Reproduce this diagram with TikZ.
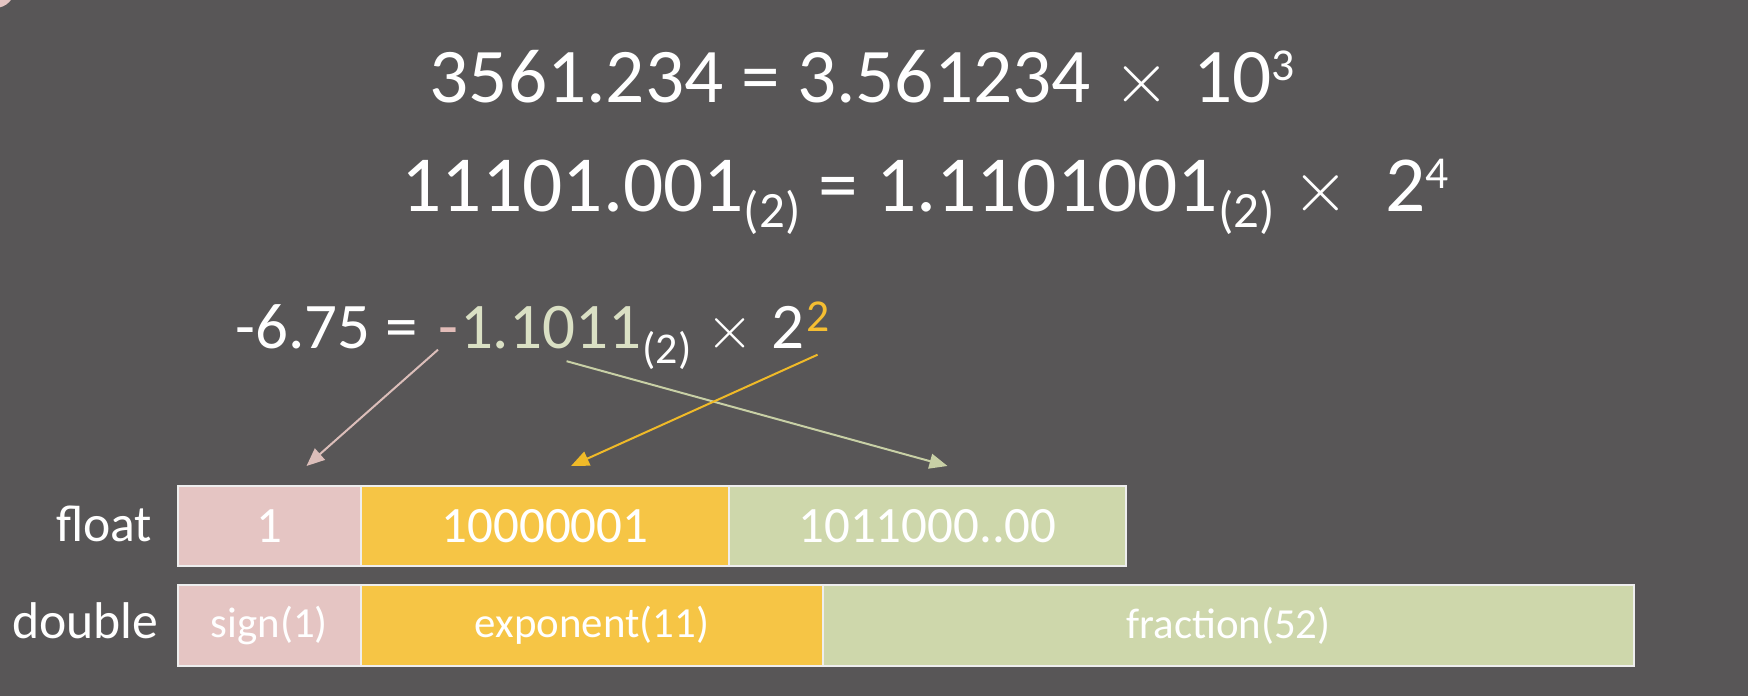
\documentclass[tikz,border=0pt]{standalone}
\usepackage{fontspec}
\setmainfont{Carlito}
\usetikzlibrary{positioning,arrows.meta}

\definecolor{slatebg}{RGB}{88,86,87}
\definecolor{signpink}{RGB}{229,197,195}
\definecolor{expyellow}{RGB}{246,197,69}
\definecolor{fracgreen}{RGB}{206,215,171}
\definecolor{cellline}{RGB}{238,238,238}
\definecolor{minuspink}{RGB}{226,188,184}
\definecolor{mintgreen}{RGB}{218,224,196}
\definecolor{supyellow}{RGB}{245,190,50}
\definecolor{arrowpink}{RGB}{220,190,186}
\definecolor{arrowgreen}{RGB}{200,208,166}
\definecolor{arrowyellow}{RGB}{240,186,40}

\newcommand{\shifted}[3]{\raisebox{#1}{\fontsize{#2}{#2}\selectfont #3}}

\tikzset{
  bigeq/.style={text=white, inner sep=0pt, font=\fontsize{22}{26}\selectfont},
  smalleq/.style={text=white, inner sep=0pt, font=\fontsize{18.5}{22}\selectfont},
  cell/.style={draw=cellline, line width=0.25mm, inner sep=0pt, outer sep=0pt,
    minimum height=8mm, text=white, font=\fontsize{14.5}{17}\selectfont},
  dcell/.style={cell, minimum height=8.1mm, font=\fontsize{12.2}{14}\selectfont},
  rowlabel/.style={text=white, inner sep=0pt, font=\fontsize{14.7}{17}\selectfont},
  pointer/.style={line width=0.2mm, -{Triangle[length=1.8mm,width=1.5mm]}},
}

\begin{document}
\begin{tikzpicture}[x=0.1mm, y=-0.1mm]
  \useasboundingbox (0,0) rectangle (1748,696);
  \fill[slatebg] (0,0) rectangle (1748,696);
  \fill[signpink] (-5,-12) circle (2mm);

  % the two worked examples
  \node[bigeq, anchor=base west] (decimal) at (429,103)
    {3561.234 = 3.561234\ \kern1.5pt$\times$\kern1.5pt\ 10\shifted{6.3pt}{13}{3}};
  \node[bigeq, font=\fontsize{22.6}{26}\selectfont, anchor=base west] (binary) at (401,212)
    {11101.001\shifted{-4.3pt}{14.5}{(2)} = 1.1101001\shifted{-4.3pt}{14.5}{(2)}\ $\times$\ \ 2\shifted{6.8pt}{13}{4}};

  % -6.75 split into its parts
  \node[smalleq, anchor=base west] (lhs) at (235,349) {-6.75 =};
  \node[smalleq, anchor=base west, text=minuspink] (sgn) at ([xshift=5.5pt]lhs.base east) {-};
  \node[smalleq, anchor=base west, text=mintgreen] (mant) at (sgn.base east) {1.1011};
  \node[smalleq, anchor=base west] (radix) at (mant.base east)
    {\shifted{-4pt}{12.5}{(2)}\ $\times$\kern1pt\ 2};
  \node[smalleq, anchor=base west, text=supyellow] (expo) at (radix.base east) {\shifted{5pt}{13}{2}};

  % float row
  \node[cell, fill=signpink, minimum width=18.3mm, anchor=north west] (fsign) at (178,486) {1};
  \node[cell, fill=expyellow, minimum width=36.8mm, right=0pt of fsign] (fexp) {10000001};
  \node[cell, fill=fracgreen, minimum width=39.7mm, right=0pt of fexp] (ffrac) {1011000..00};

  % double row
  \node[dcell, fill=signpink, minimum width=18.3mm, below=1.9mm of fsign] (dsign) {sign(1)};
  \node[dcell, fill=expyellow, minimum width=46.2mm, right=0pt of dsign] (dexp) {exponent(11)};
  \node[dcell, fill=fracgreen, minimum width=81.1mm, right=0pt of dexp] (dfrac) {fraction(52)};

  \node[rowlabel, anchor=base east] (flabel) at (153,542) {float};
  \node[rowlabel, anchor=base east] (dlabel) at (159,638) {double};

  % pointers from the parts to the fields
  \draw[pointer, arrowpink] (sgn.south west) -- ([shift={(37,-20)}]fsign.north);
  \draw[pointer, arrowgreen] ([shift={(16,11)}]mant.south) -- ([shift={(20,-20)}]ffrac.north);
  \draw[pointer, arrowyellow] ([shift={(0,5)}]expo.south) -- ([shift={(26,-20)}]fexp.north);
\end{tikzpicture}
\end{document}
